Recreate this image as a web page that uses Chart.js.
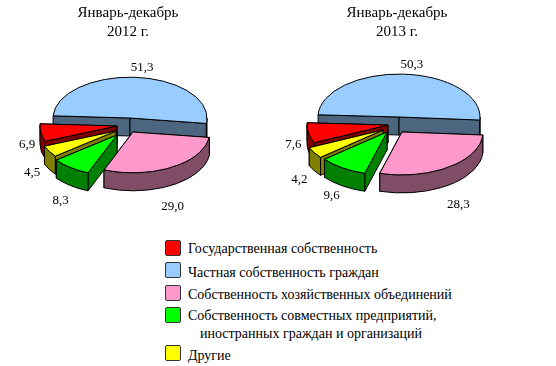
<!DOCTYPE html>
<html>
<head>
    <meta charset="utf-8">
    <title>Структура по формам собственности</title>
    <script src="https://cdn.jsdelivr.net/npm/chart.js"></script>
    <style>
        body { margin: 0; background: #fff; }
        #page { position: relative; width: 556px; height: 366px; overflow: hidden; font-family: "Liberation Serif", serif; font-size: 14px; color: #000; }
        canvas { position: absolute; top: 0; }
        .box { position: absolute; left: 165px; width: 14px; height: 14px; border: 1px solid #333; border-radius: 2px; }
        .txt { position: absolute; white-space: nowrap; line-height: 16px; }
    </style>
</head>
<body>
<div id="page">
    <canvas id="pie2012" width="256" height="230" style="left:0"></canvas>
    <canvas id="pie2013" width="254" height="230" style="left:270px"></canvas>
    <div id="legendBox"></div>
</div>

<script>
    const categories = ['Государственная собственность', 'Частная собственность граждан', 'Собственность хозяйственных объединений', 'Собственность совместных предприятий, иностранных граждан и организаций', 'Другие'];
    const values2012 = [6.9, 51.3, 29.0, 8.3, 4.5];
    const values2013 = [7.6, 50.3, 28.3, 9.6, 4.2];
    const title2012 = ['Январь-декабрь', '2012 г.'];
    const title2013 = ['Январь-декабрь', '2013 г.'];

    const topColors = ['#ff0000', '#99ccff', '#ff99cc', '#00ff00', '#ffff00'];
    const sideColors = ['#800000', '#4d6680', '#804d66', '#008000', '#808000'];
    const wallColors = ['#800000', '#000000', '#804d66', '#008000', '#808000'];
    const drawOrder = [1, 2, 0, 4, 3];

    // squash and depth of the fake 3d pie
    const squash = 0.53;
    const depth = 18;

    function wall(ctx, cx, cy, r, a, b) {
        ctx.beginPath();
        ctx.ellipse(cx, cy, r, r * squash, 0, a, b);
        ctx.ellipse(cx, cy + depth, r, r * squash, 0, b, a, true);
        ctx.closePath();
        ctx.fill();
        ctx.stroke();
    }

    const pie3d = {
        id: 'pie3d',
        beforeDatasetsDraw(chart, args, opts) {
            const ctx = chart.ctx;
            const arcs = chart.getDatasetMeta(0).data;
            ctx.save();
            ctx.strokeStyle = '#000';
            ctx.lineWidth = 1;
            drawOrder.forEach(i => {
                const arc = arcs[i];
                const cx = opts.cx + opts.shift[i][0];
                const cy = opts.cy + opts.shift[i][1];
                const r = arc.outerRadius;
                const s = arc.startAngle, e = arc.endAngle;
                const px = a => cx + r * Math.cos(a);
                const py = a => cy + r * squash * Math.sin(a);

                // cut faces, the one further back first
                ctx.fillStyle = sideColors[i];
                [s, e].sort((a, b) => py(a) - py(b)).forEach(a => {
                    ctx.beginPath();
                    ctx.moveTo(cx, cy);
                    ctx.lineTo(px(a), py(a));
                    ctx.lineTo(px(a), py(a) + depth);
                    ctx.lineTo(cx, cy + depth);
                    ctx.closePath();
                    ctx.fill();
                    ctx.stroke();
                });

                // outer wall, only the front half of the ellipse shows
                ctx.fillStyle = wallColors[i];
                for (let k = -1; k < 3; k++) {
                    const a = Math.max(s, k * 2 * Math.PI);
                    const b = Math.min(e, k * 2 * Math.PI + Math.PI);
                    if (b > a) wall(ctx, cx, cy, r, a, b);
                }

                ctx.fillStyle = arc.options.backgroundColor;
                ctx.beginPath();
                ctx.moveTo(cx, cy);
                ctx.ellipse(cx, cy, r, r * squash, 0, s, e);
                ctx.closePath();
                ctx.fill();
                ctx.stroke();
            });

            // value labels
            ctx.fillStyle = '#000';
            ctx.font = '13px "Liberation Serif"';
            ctx.textAlign = 'center';
            ctx.textBaseline = 'middle';
            arcs.forEach((arc, i) => {
                const mid = (arc.startAngle + arc.endAngle) / 2;
                const x = opts.cx + opts.shift[i][0] + arc.outerRadius * Math.cos(mid) + opts.labelShift[i][0];
                const y = opts.cy + opts.shift[i][1] + arc.outerRadius * squash * Math.sin(mid) + opts.labelShift[i][1];
                const text = chart.data.datasets[0].data[i].toFixed(1).replace('.', ',');
                ctx.fillText(text, x, y);
            });
            ctx.restore();
            return false;
        }
    };

    function makePie(id, values, titleLines, rotation, radius, place) {
        new Chart(document.getElementById(id), {
            type: 'pie',
            data: {
                labels: categories,
                datasets: [{ data: values, backgroundColor: topColors }]
            },
            plugins: [pie3d],
            options: {
                responsive: false,
                animation: false,
                rotation: rotation,
                radius: radius,
                plugins: {
                    legend: { display: false },
                    tooltip: { enabled: false },
                    title: {
                        display: true,
                        text: titleLines,
                        color: '#000',
                        align: 'center',
                        font: { family: 'Liberation Serif', size: 15, weight: 'normal', lineHeight: 1.28 },
                        padding: { top: 3, bottom: 0 }
                    },
                    pie3d: place
                }
            }
        });
    }

    makePie('pie2012', values2012, title2012, 248.2, 77, {
        cx: 130, cy: 118,
        shift: [[-13, 8], [0, 0], [3, 14], [-13, 17], [-14, 13]],
        labelShift: [[-14, 12], [5, -10], [1, 39], [-10, 33], [-17, 21]]
    });
    makePie('pie2013', values2013, title2013, 245.6, 81, {
        cx: 129, cy: 117,
        shift: [[-11, 8], [0, 0], [3, 15], [-12, 15], [-16, 13]],
        labelShift: [[-15, 12], [8, -10], [10, 37], [-11, 28], [-15, 27]]
    });

    // legend rows
    const legendTops = [240, 262, 285, 307, 345];
    const textTops = [241, 265, 287, 308, 348];
    const legendBox = document.getElementById('legendBox');
    categories.forEach((name, i) => {
        const box = document.createElement('div');
        box.className = 'box';
        box.style.top = legendTops[i] + 'px';
        box.style.background = topColors[i];
        legendBox.appendChild(box);

        const lines = name.indexOf(', иностранных') > 0 ? [name.slice(0, name.indexOf(' иностранных')), name.slice(name.indexOf(' иностранных') + 1)] : [name];
        lines.forEach((line, n) => {
            const t = document.createElement('div');
            t.className = 'txt';
            t.textContent = line;
            t.style.left = (n ? 200 : 188) + 'px';
            t.style.top = (textTops[i] + n * 18) + 'px';
            legendBox.appendChild(t);
        });
    });
</script>
</body>
</html>
